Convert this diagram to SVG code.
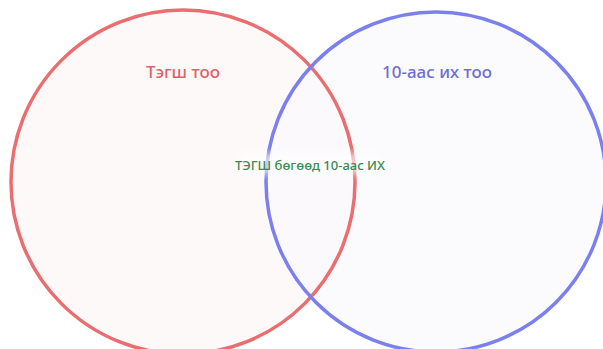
<svg xmlns="http://www.w3.org/2000/svg" width="603" height="349" viewBox="0 0 603 349">
<defs>
<filter id="soft" x="-20%" y="-50%" width="140%" height="200%"><feGaussianBlur stdDeviation="3"/></filter>
</defs>
<style>
text{font-family:"Noto Sans","DejaVu Sans",sans-serif;text-anchor:middle;font-weight:500}
.set{stroke-width:3.5;fill:none}
</style>
<rect width="603" height="349" fill="#ffffff"/>
<circle cx="183" cy="182" r="172" fill="#fef9f9"/>
<circle cx="436" cy="182" r="170" fill="#f8f8fe" fill-opacity="0.6"/>
<g id="set-even">
<circle class="set" cx="183" cy="182" r="172" stroke="#ea6d6f"/>
<text x="183" y="78" font-size="17" fill="#e0626a">Тэгш тоо</text>
</g>
<g id="set-gt10">
<circle class="set" cx="436" cy="182" r="170" stroke="#7b80ee"/>
<text x="437" y="78" font-size="17" fill="#6f6fd0">10-аас их тоо</text>
</g>
<g id="intersection">
<rect x="240" y="153" width="140" height="22" fill="#ffffff" fill-opacity="0.6" filter="url(#soft)"/>
<text x="310" y="170" font-size="13" fill="#3b8a52">ТЭГШ бөгөөд 10-аас ИХ</text>
</g>
<g id="connectors"></g>
</svg>
